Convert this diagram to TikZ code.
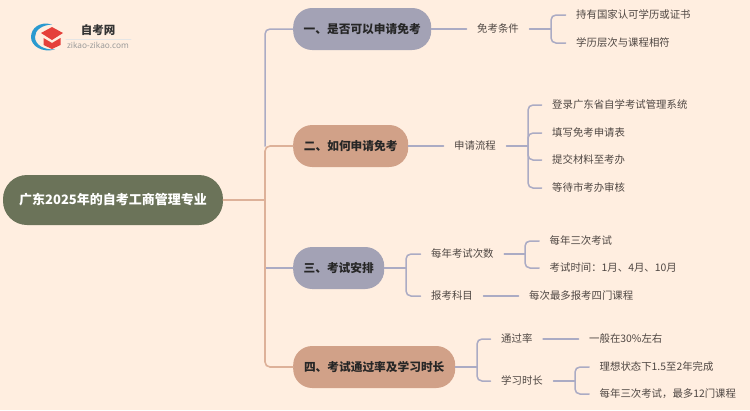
\documentclass[tikz,border=0pt]{standalone}
\usepackage{fontspec}
\setmainfont{Noto Sans CJK SC}
\newfontfamily\logofont{Noto Sans}
\definecolor{bgcol}{HTML}{FFEEE0}
\definecolor{lilac}{HTML}{A3A2B5}
\definecolor{lilacline}{HTML}{ABABC4}
\definecolor{tan}{HTML}{D1A188}
\definecolor{tanline}{HTML}{DDB199}
\definecolor{rootcol}{HTML}{6B7359}
\definecolor{leafcol}{HTML}{4F4743}
\definecolor{logoblue}{HTML}{2A9AD0}
\definecolor{logored}{HTML}{E5403A}
\tikzset{
  rootbox/.style={fill=rootcol, text=white, rounded corners=24pt, minimum width=220pt, minimum height=50pt, inner sep=0pt, font=\fontsize{13}{16}\selectfont\bfseries},
  topic/.style={anchor=west, rounded corners=19pt, minimum height=42pt, inner xsep=0pt, text=black!85, font=\fontsize{11.7}{14}\selectfont\bfseries},
  leaf/.style={anchor=west, inner xsep=10.5pt, inner ysep=1pt, text height=8pt, text depth=1.5pt, text=leafcol, font=\fontsize{10.4}{13}\selectfont},
  link/.style={draw=lilacline, line width=1.5pt},
  tanlink/.style={draw=tanline, line width=1.6pt},
  elbow/.style={link, rounded corners=5pt}
}
\begin{document}
\begin{tikzpicture}[x=1pt, y=-1pt, line join=round, line cap=round]
	\path[fill=bgcol] (0,0) rectangle (750,410);
	\useasboundingbox (0,0) rectangle (750,410);
	% root and topics
	\node[rootbox] (root) at (113,200) {广东2025年的自考工商管理专业};
	\node[topic, fill=lilac, minimum width=138pt] (t1) at (293,29) {一、是否可以申请免考};
	\node[topic, fill=tan, minimum width=115pt] (t2) at (293,146) {二、如何申请免考};
	\node[topic, fill=lilac, minimum width=91pt] (t3) at (293,268) {三、考试安排};
	\node[topic, fill=tan, minimum width=162pt] (t4) at (293,367) {四、考试通过率及学习时长};
	% second level
	\node[leaf] (s1) at (466.5,29) {免考条件};
	\node[leaf] (s2) at (443.5,146) {申请流程};
	\node[leaf] (s3) at (420.5,254) {每年考试次数};
	\node[leaf] (s4) at (420.5,296) {报考科目};
	\node[leaf] (s5) at (490.5,339) {通过率};
	\node[leaf] (s6) at (490.5,381) {学习时长};
	% third level
	\node[leaf] (a1) at (565.5,15) {持有国家认可学历或证书};
	\node[leaf] (a2) at (565.5,43) {学历层次与课程相符};
	\node[leaf] (b1) at (541.5,105) {登录广东省自学考试管理系统};
	\node[leaf] (b2) at (541.5,133) {填写免考申请表};
	\node[leaf] (b3) at (541.5,160) {提交材料至考办};
	\node[leaf] (b4) at (541.5,188) {等待市考办审核};
	\node[leaf] (c1) at (539,241) {每年三次考试};
	\node[leaf] (c2) at (539,268) {考试时间：1月、4月、10月};
	\node[leaf] (c3) at (518.5,296) {每次最多报考四门课程};
	\node[leaf] (d1) at (578.5,339) {一般在30\%左右};
	\node[leaf] (d2) at (589,367) {理想状态下1.5至2年完成};
	\node[leaf] (d3) at (589,394) {每年三次考试，最多12门课程};
	% junctions
	\coordinate (spine) at (265,200);
	\coordinate (j1) at (551,29);
	\coordinate (j2) at (528,146);
	\coordinate (j3) at (406,268);
	\coordinate (j4) at (525,254);
	\coordinate (j5) at (477,367);
	\coordinate (j6) at (575,381);
	\coordinate (k2) at (265,146);
	\coordinate (k3) at (266,268);
	% connectors
	\draw[link, rounded corners=5pt] (k2) |- (t1.west);
	\draw[link] (k3) -- (t3.west);
	\draw[tanlink] (root.east) -- (spine);
	\draw[tanlink, rounded corners=5pt] (spine) |- (t2.west);
	\draw[tanlink, rounded corners=5pt] (spine) |- (t4.west);
	\draw[link] (t1.east) -- (s1.west);
	\draw[link] (t2.east) -- (s2.west);
	\draw[link] (t3.east) -- (j3);
	\draw[link] (t4.east) -- (j5);
	\draw[link] (s1.east) -- (j1);
	\draw[link] (s2.east) -- (j2);
	\draw[link] (s3.east) -- (j4);
	\draw[link] (s4.east) -- (c3.west);
	\draw[link] (s5.east) -- (d1.west);
	\draw[link] (s6.east) -- (j6);
	\foreach \from/\to in {j1/a1, j1/a2, j2/b1, j2/b2, j2/b3, j2/b4, j3/s3, j3/s4, j4/c1, j4/c2, j5/s5, j5/s6, j6/d2, j6/d3}
		\draw[elbow] (\from) |- (\to.west);
	% logo
	\fill[logoblue] (52,24.5) .. controls (40,21) and (31,28) .. (31,37) .. controls (31,46) and (42,53) .. (55,49.5) .. controls (44,50) and (35,45) .. (35,37) .. controls (35,30) and (42,25) .. (52,24.5) -- cycle;
	\fill[logored] (41,33) -- (52,27) -- (63,33) -- (52,40) -- cycle;
	\fill[logored] (43.5,38) -- (52,43) -- (60.5,38) -- (60.5,45) -- (52,49) -- (43.5,45) -- cycle;
	\node[text=black!80, font=\fontsize{11.5}{14}\selectfont\bfseries] (logotitle) at (98,30.5) {自考网};
	\node[text=black!40, font=\logofont\fontsize{8.3}{10}\selectfont] (logourl) at (98,45) {zikao-zikao.com};
	\coordinate (rulea) at (66,39);
	\coordinate (ruleb) at (131,39);
	\draw[black!10, line width=.6pt] (rulea) -- (ruleb);
\end{tikzpicture}
\end{document}
